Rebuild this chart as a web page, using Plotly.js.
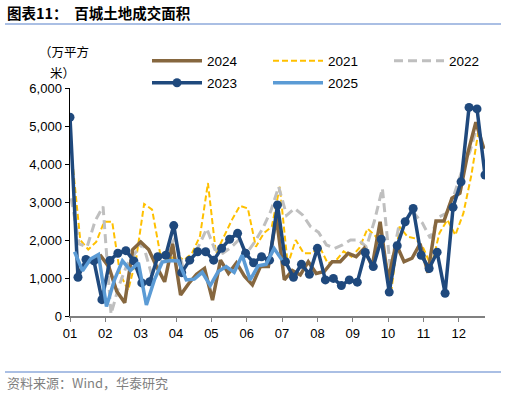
<!DOCTYPE html>
<html><head><meta charset="utf-8">
<script src="https://cdn.plot.ly/plotly-3.0.1.min.js"></script>
<style>html,body{margin:0;padding:0;background:#fff}#chart{width:506px;height:393px}</style>
</head><body><div id="chart"></div>
<script>
// Weekly land transaction area (10k sqm), week-ending dates start offsets (days after Jan 1)
const startOffset = {"2021": 2, "2022": 1, "2023": 0, "2024": 6, "2025": 4};
const v2024 = [1100,1350,1500,1580,1300,650,350,1750,1950,1750,1300,900,1900,550,850,1100,1250,420,1470,1120,1400,1050,820,1300,1300,2600,950,1200,1080,1430,1120,1170,1430,1430,1650,1560,1780,1300,2480,950,1900,1430,1520,1900,1140,2500,2500,3100,3230,4300,5100,4400];
const v2021 = [4100,2000,1750,1950,2480,2480,1100,680,1500,2950,2800,1650,1450,1600,1470,1650,2100,3500,1650,2100,2530,2900,2830,1820,2180,2350,3400,1350,2000,1650,1650,1820,1390,1450,1700,1560,1800,2300,2100,1740,700,2350,2090,2040,1780,1300,2180,2530,2130,2700,3700,5000];
const v2022 = [3100,1900,1820,2500,2880,50,800,1350,1650,1900,1150,1300,1650,2050,1300,1450,1850,2300,1750,1650,1800,2000,1650,1950,2300,2750,3400,2650,2830,2660,2350,2200,1870,1780,1870,2000,2000,1820,2500,3360,1250,2300,2550,2700,2450,2050,2600,2700,3200,3850,4350,5100];
const v2023 = [5230,1020,1490,1450,430,1460,1650,1720,1450,870,900,1560,1600,2380,1140,1470,1690,1690,1470,1780,2020,2175,1650,1400,1560,1470,2920,1430,1020,1360,1100,1780,950,990,800,950,890,1670,1300,2020,630,1850,2480,2830,1600,1250,1680,600,2860,3530,5490,5450,3710];
const v2025 = [1690,1190,1500,1620,250,950,1450,1200,1400,290,950,1420,1460,1450,950,970,1150,800,1170,1300,1150,1600,950,1320,1360,1780,1470];
const monthLabels = ["01","02","03","04","05","06","07","08","09","10","11","12"];
const yTicks = [0,1000,2000,3000,4000,5000,6000];
const tickStepDays = 31;

function pad(n){return (n<10?"0":"")+n;}
function dayStr(dayIndex){
  const d=new Date(Date.UTC(2001,0,1+dayIndex));
  return d.getUTCFullYear()+"-"+pad(d.getUTCMonth()+1)+"-"+pad(d.getUTCDate());
}
function weekDates(year, n){
  const out=[];
  for(let i=0;i<n;i++) out.push(dayStr(startOffset[year]+7*i));
  return out;
}
const monthTickVals = monthLabels.map((m,k)=>dayStr(tickStepDays*k));

const L=70, R=485, T=88, B=316, W=506, H=393;
const px=(x)=>(x-L)/(R-L);
const py=(y)=>(B-y)/(B-T);
const font="Liberation Sans, Arial, sans-serif";
const cjk="Noto Sans CJK SC, sans-serif";

const traces = [
  {name:"2021", y:v2021, x:weekDates("2021",v2021.length), mode:"lines", line:{color:"#FFC000",width:2,dash:"6px,3px"}, legend:"legend2"},
  {name:"2022", y:v2022, x:weekDates("2022",v2022.length), mode:"lines", line:{color:"#BFBFBF",width:3,dash:"9px,5px"}, legend:"legend3"},
  {name:"2024", y:v2024, x:weekDates("2024",v2024.length), mode:"lines", line:{color:"#86673F",width:3.5}, legend:"legend"},
  {name:"2023", y:v2023, x:weekDates("2023",v2023.length), mode:"lines+markers", line:{color:"#1F497D",width:3.5}, marker:{color:"#1F497D",size:9}, legend:"legend4"},
  {name:"2025", y:v2025, x:weekDates("2025",v2025.length), mode:"lines", line:{color:"#5B9BD5",width:3.5}, legend:"legend5"}
];

function leg(textX, rowY){
  return {orientation:"v",x:px(textX-57),y:py(rowY),xanchor:"left",yanchor:"middle",
    font:{family:font,size:13.5,color:"#000"},bgcolor:"rgba(0,0,0,0)",itemwidth:50};
}

const layout={
  width:W,height:H,
  margin:{l:L,r:W-R,t:T,b:H-B,pad:0},
  paper_bgcolor:"#fff",plot_bgcolor:"#fff",
  showlegend:true,
  separators:".,",
  font:{family:font,size:13,color:"#000"},
  xaxis:{type:"date",range:["2001-01-01","2001-12-31"],tickvals:monthTickVals,ticktext:monthLabels,
    showgrid:false,zeroline:false,showline:true,linecolor:"#808080",linewidth:2,
    ticks:"outside",ticklen:4,tickcolor:"#808080",tickwidth:1,tickfont:{family:font,size:13,color:"#000"},fixedrange:true},
  yaxis:{range:[0,6000],tickvals:yTicks,tickformat:",d",showgrid:false,zeroline:false,showline:true,linecolor:"#000",linewidth:1.5,
    ticks:"outside",ticklen:4,tickcolor:"#000",tickfont:{family:font,size:13,color:"#000"},fixedrange:true},
  legend:leg(204,61),
  legend2:leg(325,61),
  legend3:leg(446,61),
  legend4:leg(204,83),
  legend5:leg(325,83),
  annotations:[
    {text:"<b>图表11：  百城土地成交面积</b>",xref:"paper",yref:"paper",x:px(5),y:py(12),xanchor:"left",yanchor:"middle",showarrow:false,font:{family:cjk,size:14.5,color:"#000"}},
    {text:"（万平方",xref:"paper",yref:"paper",x:px(37),y:py(52),xanchor:"left",yanchor:"middle",showarrow:false,font:{family:cjk,size:12.5,color:"#000"}},
    {text:"米）",xref:"paper",yref:"paper",x:px(48),y:py(73),xanchor:"left",yanchor:"middle",showarrow:false,font:{family:cjk,size:12.5,color:"#000"}},
    {text:"资料来源：Wind，华泰研究",xref:"paper",yref:"paper",x:px(5),y:py(382),xanchor:"left",yanchor:"middle",showarrow:false,font:{family:cjk,size:13,color:"#7F7F7F"}}
  ],
  shapes:[
    {type:"line",xref:"paper",yref:"paper",x0:px(5),x1:px(501),y0:py(24),y1:py(24),line:{color:"#8EAADB",width:1.5}},
    {type:"line",xref:"paper",yref:"paper",x0:px(5),x1:px(501),y0:py(372),y1:py(372),line:{color:"#8EAADB",width:1.5}}
  ]
};
Plotly.newPlot("chart",traces,layout,{displayModeBar:false,staticPlot:true});
</script></body></html>
